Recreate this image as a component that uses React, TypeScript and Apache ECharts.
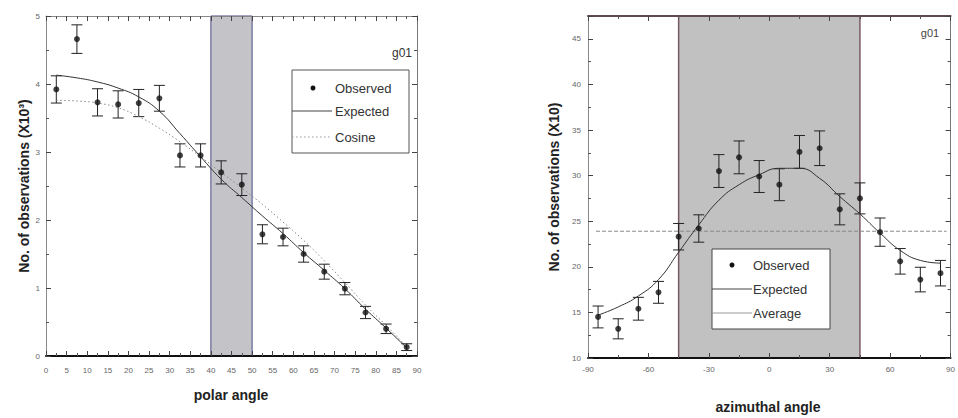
import React, { useEffect, useRef } from "react";
import * as echarts from "echarts";

// ---- Left panel: polar angle ----
const polarAngles = [2.5, 7.5, 12.5, 17.5, 22.5, 27.5, 32.5, 37.5, 42.5, 47.5, 52.5, 57.5, 62.5, 67.5, 72.5, 77.5, 82.5, 87.5];
const polarObserved = [3.92, 4.66, 3.73, 3.7, 3.72, 3.79, 2.95, 2.95, 2.7, 2.52, 1.79, 1.75, 1.5, 1.24, 0.99, 0.64, 0.4, 0.13];
const polarErrors = [0.2, 0.21, 0.2, 0.2, 0.2, 0.19, 0.17, 0.17, 0.17, 0.16, 0.14, 0.13, 0.12, 0.11, 0.09, 0.09, 0.07, 0.05];
const polarExpected = [4.13, 4.09, 4.03, 3.94, 3.81, 3.6, 3.27, 2.93, 2.6, 2.33, 2.06, 1.8, 1.52, 1.26, 0.99, 0.69, 0.41, 0.12];
const polarCosine = [3.76, 3.75, 3.72, 3.65, 3.52, 3.35, 3.15, 2.93, 2.7, 2.47, 2.23, 1.97, 1.7, 1.4, 1.08, 0.75, 0.45, 0.14];
const polarBand = [40, 50];

// ---- Right panel: azimuthal angle ----
const azimuthAngles = [-85, -75, -65, -55, -45, -35, -25, -15, -5, 5, 15, 25, 35, 45, 55, 65, 75, 85];
const azimuthObserved = [14.5, 13.2, 15.4, 17.2, 23.3, 24.2, 30.5, 32.0, 29.9, 29.0, 32.6, 33.0, 26.3, 27.5, 23.8, 20.6, 18.6, 19.3];
const azimuthErrors = [1.2, 1.1, 1.25, 1.2, 1.45, 1.5, 1.8, 1.8, 1.75, 1.75, 1.8, 1.9, 1.7, 1.7, 1.55, 1.4, 1.35, 1.4];
const azimuthExpected = [14.7, 15.6, 16.8, 18.6, 21.6, 24.6, 27.3, 29.0, 30.1, 30.8, 30.8, 29.7, 27.7, 25.8, 23.7, 21.8, 20.7, 20.4];
const azimuthAverage = 23.9;
const azimuthAverageRange = [-86, 88];
const azimuthBand = [-45, 45];

const FONT = "Liberation Sans, Arial, sans-serif";

function errorRender(params: any, api: any) {
  const x = api.value(0);
  const y = api.value(1);
  const e = api.value(2);
  const top = api.coord([x, y + e]);
  const bot = api.coord([x, y - e]);
  const w = 5.5;
  const style = { stroke: "#222", lineWidth: 1 };
  return {
    type: "group",
    children: [
      { type: "line", shape: { x1: top[0], y1: top[1], x2: bot[0], y2: bot[1] }, style },
      { type: "line", shape: { x1: top[0] - w, y1: top[1], x2: top[0] + w, y2: top[1] }, style },
      { type: "line", shape: { x1: bot[0] - w, y1: bot[1], x2: bot[0] + w, y2: bot[1] }, style },
    ],
  };
}

const tick = { show: true, inside: true, length: 5, lineStyle: { color: "#444", width: 1 } };
const minor = { show: true, splitNumber: 2, length: 3, lineStyle: { color: "#555", width: 1 } };
const lbl = { fontSize: 8, color: "#666", fontFamily: FONT };

function line(color: string, width: number) {
  return { show: true, onZero: false, lineStyle: { color, width } };
}

export default function App() {
  const ref = useRef<HTMLDivElement>(null);
  useEffect(() => {
    if (!ref.current) return;
    const chart = echarts.init(ref.current, undefined, { renderer: "svg" });
    const option: any = {
      animation: false,
      backgroundColor: "#ffffff",
      grid: [
        { left: 46, top: 16, width: 371, height: 340 },
        { left: 588, top: 16, width: 374, height: 342 },
      ],
      xAxis: [
        {
          gridIndex: 0, type: "value", min: 0, max: 90, interval: 5, z: 10,
          axisLine: line("#111", 2),
          axisTick: tick, minorTick: minor, splitLine: { show: false },
          axisLabel: { ...lbl, margin: 10 },
        },
        {
          gridIndex: 0, type: "value", min: 0, max: 90, interval: 5, position: "top", z: 10,
          axisLine: line("#888", 1),
          axisTick: tick, minorTick: minor, splitLine: { show: false },
          axisLabel: { show: false },
        },
        {
          gridIndex: 1, type: "value", min: -90, max: 90, interval: 30, z: 10,
          axisLine: line("#111", 2),
          axisTick: tick, minorTick: minor, splitLine: { show: false },
          axisLabel: { ...lbl, margin: 7 },
        },
        {
          gridIndex: 1, type: "value", min: -90, max: 90, interval: 30, position: "top", z: 10,
          axisLine: line("#5e4a50", 2),
          axisTick: tick, minorTick: minor, splitLine: { show: false },
          axisLabel: { show: false },
        },
      ],
      yAxis: [
        {
          gridIndex: 0, type: "value", min: 0, max: 5, interval: 1, z: 10,
          axisLine: line("#888", 1),
          axisTick: tick, minorTick: minor, splitLine: { show: false },
          axisLabel: { ...lbl, margin: 6 },
        },
        {
          gridIndex: 0, type: "value", min: 0, max: 5, interval: 1, position: "right", z: 10,
          axisLine: line("#777", 1),
          axisTick: tick, minorTick: minor, splitLine: { show: false },
          axisLabel: { show: false },
        },
        {
          gridIndex: 1, type: "value", min: 10, max: 47.5, interval: 5, z: 10,
          axisLine: line("#888", 1),
          axisTick: tick, minorTick: minor, splitLine: { show: false },
          axisLabel: { ...lbl, margin: 7, formatter: (v: number) => (v % 5 === 0 ? String(v) : "") },
        },
        {
          gridIndex: 1, type: "value", min: 10, max: 47.5, interval: 5, position: "right", z: 10,
          axisLine: line("#777", 1),
          axisTick: tick, minorTick: minor, splitLine: { show: false },
          axisLabel: { show: false },
        },
      ],
      series: [
        {
          type: "line", xAxisIndex: 0, yAxisIndex: 0, smooth: 0.5, symbol: "none",
          data: polarAngles.map((a, i) => [a, polarCosine[i]]),
          lineStyle: { color: "#888", width: 1, type: [1.5, 2.5] },
          markArea: {
            silent: true,
            itemStyle: { color: "#c4c4c8", borderColor: "#4c4c88", borderWidth: 1 },
            data: [[{ xAxis: polarBand[0] }, { xAxis: polarBand[1] }]],
          },
        },
        {
          type: "line", xAxisIndex: 0, yAxisIndex: 0, smooth: 0.5, symbol: "none",
          data: polarAngles.map((a, i) => [a, polarExpected[i]]),
          lineStyle: { color: "#333", width: 1 },
        },
        {
          type: "custom", xAxisIndex: 0, yAxisIndex: 0, renderItem: errorRender,
          encode: { x: 0, y: 1 }, z: 3,
          data: polarAngles.map((a, i) => [a, polarObserved[i], polarErrors[i]]),
        },
        {
          type: "scatter", xAxisIndex: 0, yAxisIndex: 0, symbolSize: 6, z: 4,
          itemStyle: { color: "#111" },
          data: polarAngles.map((a, i) => [a, polarObserved[i]]),
        },
        {
          type: "line", xAxisIndex: 2, yAxisIndex: 2, symbol: "none",
          data: azimuthAverageRange.map((a) => [a, azimuthAverage]),
          lineStyle: { color: "#888", width: 1, type: [4, 2] },
          markArea: {
            silent: true,
            itemStyle: { color: "#c1c1c1", borderColor: "#7a5a62", borderWidth: 1.5 },
            data: [[{ xAxis: azimuthBand[0] }, { xAxis: azimuthBand[1] }]],
          },
        },
        {
          type: "line", xAxisIndex: 2, yAxisIndex: 2, smooth: 0.5, symbol: "none",
          data: azimuthAngles.map((a, i) => [a, azimuthExpected[i]]),
          lineStyle: { color: "#333", width: 1 },
        },
        {
          type: "custom", xAxisIndex: 2, yAxisIndex: 2, renderItem: errorRender,
          encode: { x: 0, y: 1 }, z: 3,
          data: azimuthAngles.map((a, i) => [a, azimuthObserved[i], azimuthErrors[i]]),
        },
        {
          type: "scatter", xAxisIndex: 2, yAxisIndex: 2, symbolSize: 6, z: 4,
          itemStyle: { color: "#111" },
          data: azimuthAngles.map((a, i) => [a, azimuthObserved[i]]),
        },
      ],
      graphic: [
        // Axis titles
        { type: "text", x: 24, y: 186, rotation: Math.PI / 2, z: 50,
          style: { text: "No. of observations (X10³)", align: "center", verticalAlign: "middle", font: `bold 14px ${FONT}`, fill: "#222" } },
        { type: "text", x: 231, y: 395, z: 50,
          style: { text: "polar angle", align: "center", verticalAlign: "middle", font: `bold 14px ${FONT}`, fill: "#222" } },
        { type: "text", x: 554, y: 187, rotation: Math.PI / 2, z: 50,
          style: { text: "No. of observations (X10)", align: "center", verticalAlign: "middle", font: `bold 14px ${FONT}`, fill: "#222" } },
        { type: "text", x: 768, y: 407, z: 50,
          style: { text: "azimuthal angle", align: "center", verticalAlign: "middle", font: `bold 14px ${FONT}`, fill: "#222" } },
        // Labels g01
        { type: "text", x: 412, y: 53, z: 50,
          style: { text: "g01", align: "right", verticalAlign: "middle", font: `12px ${FONT}`, fill: "#333" } },
        { type: "text", x: 930, y: 33, z: 50,
          style: { text: "g01", align: "center", verticalAlign: "middle", font: `11px ${FONT}`, fill: "#444" } },
        // Left legend
        { type: "rect", z: 50, shape: { x: 292, y: 70, width: 117, height: 83 }, style: { fill: "#fff", stroke: "#555", lineWidth: 1 } },
        { type: "circle", z: 51, shape: { cx: 313, cy: 88, r: 2.5 }, style: { fill: "#111" } },
        { type: "text", x: 335, y: 88, z: 51, style: { text: "Observed", verticalAlign: "middle", font: `13px ${FONT}`, fill: "#333" } },
        { type: "line", z: 51, shape: { x1: 292, y1: 111, x2: 332, y2: 111 }, style: { stroke: "#444", lineWidth: 1 } },
        { type: "text", x: 335, y: 111, z: 51, style: { text: "Expected", verticalAlign: "middle", font: `13px ${FONT}`, fill: "#333" } },
        { type: "line", z: 51, shape: { x1: 292, y1: 137, x2: 332, y2: 137 }, style: { stroke: "#999", lineWidth: 1, lineDash: [1.5, 2.5] } },
        { type: "text", x: 335, y: 137, z: 51, style: { text: "Cosine", verticalAlign: "middle", font: `13px ${FONT}`, fill: "#333" } },
        // Right legend
        { type: "rect", z: 50, shape: { x: 712, y: 249, width: 118, height: 80 }, style: { fill: "#fff", stroke: "#444", lineWidth: 1 } },
        { type: "circle", z: 51, shape: { cx: 732, cy: 265, r: 2.5 }, style: { fill: "#111" } },
        { type: "text", x: 753, y: 265, z: 51, style: { text: "Observed", verticalAlign: "middle", font: `13px ${FONT}`, fill: "#333" } },
        { type: "line", z: 51, shape: { x1: 712, y1: 289, x2: 752, y2: 289 }, style: { stroke: "#444", lineWidth: 1 } },
        { type: "text", x: 753, y: 289, z: 51, style: { text: "Expected", verticalAlign: "middle", font: `13px ${FONT}`, fill: "#333" } },
        { type: "line", z: 51, shape: { x1: 712, y1: 313, x2: 752, y2: 313 }, style: { stroke: "#999", lineWidth: 1 } },
        { type: "text", x: 753, y: 313, z: 51, style: { text: "Average", verticalAlign: "middle", font: `13px ${FONT}`, fill: "#333" } },
      ],
    };
    chart.setOption(option);
    return () => chart.dispose();
  }, []);
  return (
    <div
      ref={ref}
      style={{ position: "fixed", left: 0, top: 0, width: 958, height: 418, background: "#fff" }}
    />
  );
}
